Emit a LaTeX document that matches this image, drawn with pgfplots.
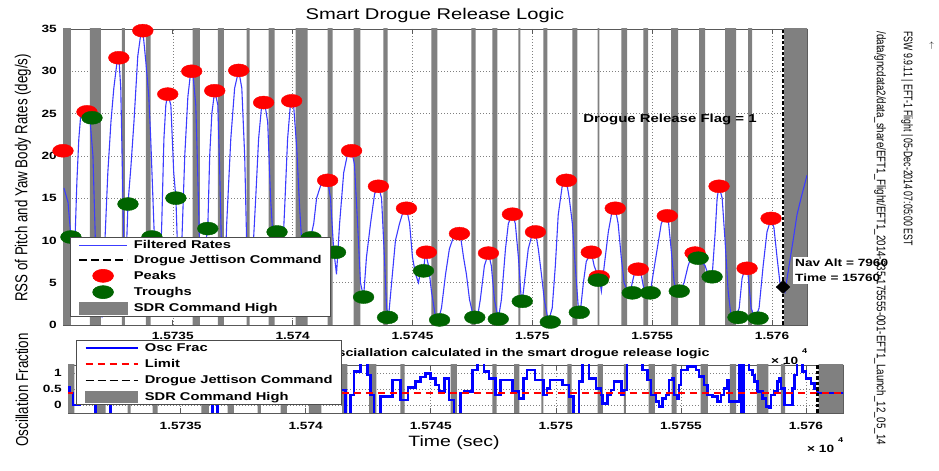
\documentclass[border=0pt]{standalone}
\usepackage{pgfplots}
\pgfplotsset{compat=1.18}
\usepackage{pgfplotstable}
\usepackage{fontspec}
\setmainfont{Liberation Sans}[FakeStretch=1.3]
\newfontfamily\rotfont{Liberation Sans}[FakeStretch=0.77]
\newfontfamily\sidefont{Liberation Sans}[FakeStretch=0.7]
\newfontfamily\sidefontb{Liberation Sans}[FakeStretch=0.78]
\definecolor{rateblue}{RGB}{60,60,255}
\definecolor{troughgreen}{RGB}{0,100,0}
\definecolor{sdrgray}{RGB}{128,128,128}

\pgfplotstableread{
t s
15729.9 -5
15730.00 40
15730.75 -5
15731.54 40
15732.00 -5
15732.88 40
15733.00 -5
15733.88 40
15734.08 -5
15735.83 40
15736.13 -5
15736.88 40
15737.13 -5
15738.08 40
15738.21 -5
15739.00 40
15739.25 -5
15740.13 40
15740.63 -5
15741.46 40
15741.67 -5
15742.54 40
15742.83 -5
15743.79 40
15743.96 -5
15745.79 40
15746.04 -5
15747.46 40
15747.63 -5
15748.33 40
15748.54 -5
15749.42 40
15749.50 -5
15750.46 40
15750.63 -5
15751.67 40
15751.88 -5
15752.72 40
15752.80 -5
15753.71 40
15753.96 -5
15754.63 40
15754.83 -5
15755.79 40
15756.08 -5
15756.96 40
15757.21 -5
15758.04 40
15758.50 -5
15759.00 40
15759.17 -5
15760.50 40
15762.00 -5
}\sdrbars

\pgfplotsset{
  sdraxis/.style={
    scale only axis,
    axis line style={black!65, line width=0.6bp},
    every tick/.style={black!65, line width=0.6bp},
    major tick length=5bp,
    tick align=inside,
    grid=major,
    major grid style={black!50, line width=0.5bp, dash pattern=on 1bp off 2bp},
    tick label style={font=\bfseries\fontsize{10.5bp}{12bp}\selectfont},
    yticklabel style={inner sep=0pt, anchor=east, xshift=-6bp},
    scaled x ticks=false,
    xtick={15735,15740,15745,15750,15755,15760},
    xticklabels={1.5735,1.574,1.5745,1.575,1.5755,1.576},
    x coord trafo/.code={\pgfmathfloatparsenumber{##1}\pgfmathfloattosci{\pgfmathresult}\edef\pgfmathresult{\fpeval{\pgfmathresult-15730}}},
    legend cell align=left,
    legend image code/.code={\draw[mark repeat=2,mark phase=2,##1] plot coordinates {(0bp,0bp) (24bp,0bp) (48bp,0bp)};},
  },
}

\begin{document}
\begin{tikzpicture}[x=1bp,y=1bp]
\useasboundingbox (0,0) rectangle (939,471);

% ---------------- top axis ----------------
\begin{axis}[sdraxis,
  at={(63bp,146bp)}, anchor=south west, width=744bp, height=296bp,
  xmin=15730.42, xmax=15761.46, ymin=0, ymax=35,
  ytick={0,5,10,15,20,25,30,35}, yticklabels={0,5,10,15,20,25,30,35},
  xticklabel style={inner sep=0pt, anchor=north, yshift=-7bp},
  clip mode=individual,
  legend style={at={(0.0094,0.297)}, anchor=north west, draw=black!70, line width=0.6bp,
    fill=white, inner xsep=8bp, inner ysep=2bp, row sep=3.3bp,
    font=\bfseries\fontsize{11.3bp}{13bp}\selectfont, nodes={inner sep=1bp},
    /tikz/column 1/.style={column sep=5bp}},
]
\addplot[const plot, fill=sdrgray, draw=none, forget plot] table[x=t,y=s]{\sdrbars} -- cycle;

\addplot[rateblue, line width=1.1bp] coordinates {
(15730.46,16.2) (15730.63,14.5) (15730.75,10.4) (15730.83,3) (15730.92,10) (15731.00,17) (15731.08,22) (15731.17,25.2) (15731.42,25.2) (15731.54,24.5) (15731.67,20) (15731.79,8) (15731.92,1.5) (15732.04,1) (15732.17,10) (15732.29,18) (15732.42,24) (15732.54,28) (15732.67,31) (15732.75,31.6) (15732.83,28) (15732.92,15) (15733.00,3) (15733.08,10) (15733.13,14.3) (15733.25,18.6) (15733.38,24) (15733.54,31.8) (15733.67,34.5) (15733.75,34.8) (15733.88,31) (15734.00,27) (15734.08,22) (15734.21,12) (15734.33,3) (15734.42,2) (15734.54,12) (15734.63,22) (15734.71,26) (15734.79,27.3) (15734.92,26) (15735.04,18) (15735.13,15) (15735.21,8) (15735.29,3) (15735.38,10) (15735.50,20) (15735.63,27) (15735.75,30) (15735.83,30) (15735.96,26) (15736.04,18) (15736.13,8) (15736.21,2) (15736.33,9) (15736.46,11.4) (15736.54,20) (15736.63,25) (15736.75,27.7) (15736.88,26) (15736.96,18) (15737.04,8) (15737.13,2) (15737.25,12) (15737.42,22) (15737.58,28) (15737.75,30.1) (15737.88,28) (15738.00,20) (15738.08,10) (15738.21,3) (15738.33,8) (15738.46,15) (15738.58,22) (15738.71,26) (15738.83,26.3) (15738.96,24) (15739.08,15) (15739.21,9) (15739.33,11) (15739.42,9) (15739.54,6) (15739.67,14) (15739.79,22) (15739.92,26.5) (15740.04,26) (15740.17,21) (15740.29,14) (15740.42,8) (15740.58,4) (15740.75,10.3) (15740.88,12) (15741.00,15) (15741.17,16.5) (15741.33,16.8) (15741.46,17.1) (15741.58,15) (15741.71,9) (15741.83,6) (15741.96,12) (15742.13,18) (15742.29,20.2) (15742.46,20.6) (15742.58,19) (15742.71,12) (15742.83,5) (15742.96,3.3) (15743.08,8) (15743.25,12) (15743.42,15.5) (15743.58,16.4) (15743.71,15) (15743.83,8) (15743.92,2) (15744.00,0.9) (15744.13,5) (15744.29,10) (15744.46,12) (15744.63,13.6) (15744.75,13.8) (15744.88,12) (15745.00,8) (15745.13,6) (15745.25,5) (15745.38,7) (15745.46,6.4) (15745.54,8.6) (15745.67,7) (15745.79,4) (15745.96,1) (15746.08,0.6) (15746.21,2) (15746.38,6) (15746.54,9) (15746.71,10.4) (15746.88,10.8) (15747.00,10.6) (15747.13,8) (15747.25,6) (15747.38,3) (15747.54,1) (15747.71,0.9) (15747.83,3) (15748.00,7) (15748.17,8.5) (15748.29,7) (15748.42,3) (15748.58,0.7) (15748.71,3) (15748.88,9) (15749.00,12) (15749.17,13.1) (15749.29,12) (15749.42,8) (15749.54,3) (15749.58,2.8) (15749.71,6) (15749.83,9) (15750.00,10.8) (15750.13,11) (15750.25,9) (15750.38,6) (15750.50,3) (15750.67,0.4) (15750.83,2) (15750.96,7) (15751.08,13) (15751.25,16.5) (15751.42,17.1) (15751.54,15) (15751.67,12) (15751.79,7) (15751.92,2) (15752.00,1.5) (15752.13,5) (15752.25,7.5) (15752.46,8.6) (15752.58,7) (15752.71,6) (15752.79,5.7) (15752.88,4) (15753.00,7) (15753.17,11) (15753.33,13.5) (15753.46,13.8) (15753.58,12) (15753.71,8) (15753.83,5) (15754.00,3.8) (15754.13,4.5) (15754.25,6) (15754.42,6.6) (15754.54,6) (15754.67,4) (15754.79,3.5) (15754.92,3.8) (15755.04,6) (15755.21,9) (15755.38,12) (15755.54,12.9) (15755.67,12.5) (15755.79,9) (15755.92,5) (15756.04,4) (15756.17,4) (15756.33,5) (15756.50,7) (15756.67,8.4) (15756.79,8.5) (15756.92,7.9) (15757.04,7.5) (15757.21,7) (15757.33,6) (15757.50,5.7) (15757.63,11) (15757.71,15) (15757.79,16.4) (15757.92,15) (15758.04,10) (15758.17,4) (15758.29,1) (15758.46,0.6) (15758.63,2) (15758.75,5.5) (15758.88,6.7) (15759.00,6) (15759.13,2) (15759.29,0.7) (15759.46,2) (15759.63,7) (15759.79,11) (15759.96,12.6) (15760.08,11.5) (15760.21,8) (15760.33,5) (15760.46,4.5) (15760.54,3.9) (15760.71,7) (15760.88,10) (15761.04,13) (15761.21,15) (15761.46,17.7)
};
\addlegendentry{Filtered Rates}
\addlegendimage{black, line width=1.6bp, dash pattern=on 8bp off 4bp}
\addlegendentry{Drogue Jettison Command}

\addplot[only marks, mark=*, mark size=6.5bp, red, mark options={xscale=1.6, draw=red, fill=red}] coordinates {
(15730.42,20.6) (15731.42,25.2) (15732.75,31.6) (15733.75,34.8) (15734.79,27.3) (15735.79,30.0) (15736.75,27.7) (15737.75,30.1) (15738.79,26.3) (15739.96,26.5) (15741.46,17.1) (15742.46,20.6) (15743.58,16.4) (15744.75,13.8) (15745.58,8.6) (15746.96,10.8) (15748.17,8.5) (15749.17,13.1) (15750.13,11.0) (15751.42,17.1) (15752.46,8.6) (15752.79,5.7) (15753.46,13.8) (15754.42,6.6) (15755.63,12.9) (15756.79,8.5) (15757.79,16.4) (15758.96,6.7) (15759.96,12.6)
};
\addlegendentry{Peaks}

\addplot[only marks, mark=*, mark size=6.5bp, troughgreen, mark options={xscale=1.6, draw=troughgreen, fill=troughgreen}] coordinates {
(15730.75,10.4) (15731.63,24.5) (15733.13,14.3) (15734.13,10.4) (15735.13,15.0) (15736.46,11.4) (15739.35,11.0) (15740.77,10.3) (15741.79,8.6) (15742.96,3.3) (15743.96,0.9) (15745.46,6.4) (15746.13,0.6) (15747.60,0.9) (15748.58,0.7) (15749.58,2.8) (15750.75,0.35) (15751.96,1.5) (15752.75,5.3) (15754.17,3.8) (15754.92,3.8) (15756.13,4.0) (15756.92,7.9) (15757.50,5.7) (15758.58,0.9) (15759.42,0.8)
};
\addlegendentry{Troughs}
\addlegendimage{legend image code/.code={\fill[sdrgray] (0bp,-6bp) rectangle (48bp,6bp);}}
\addlegendentry{SDR Command High}

\addplot[black, line width=2.6bp, dash pattern=on 3.5bp off 2bp, forget plot] coordinates {(15760.46,0) (15760.46,35)};
\addplot[only marks, mark=diamond*, mark size=6.5bp, black, mark options={xscale=1.4}, forget plot] coordinates {(15760.46,4.49)};
\end{axis}

% subtitle of the lower axis (partly covered by its legend)
\node[anchor=base east, font=\bfseries\fontsize{11bp}{13bp}\selectfont] at (713,114)
  {Fraction of osciallation calculated in the smart drogue release logic};

% ---------------- bottom axis ----------------
\begin{axis}[sdraxis,
  at={(68bp,58bp)}, anchor=south west, width=775bp, height=48bp,
  xmin=15730.5, xmax=15761.48, ymin=-0.25, ymax=1.25,
  ytick={0,0.5,1}, yticklabels={0,0.5,1},
  xticklabel style={inner sep=0pt, anchor=north, yshift=-9bp},
  legend style={at={(0.0103,1.52)}, anchor=north west, draw=black!70, line width=0.6bp,
    fill=white, inner xsep=8bp, inner ysep=2bp, row sep=4.6bp,
    font=\bfseries\fontsize{11.3bp}{13bp}\selectfont, nodes={inner sep=1bp},
    /tikz/column 1/.style={column sep=5bp}},
  legend image code/.code={\draw[mark repeat=2,mark phase=2,#1] plot coordinates {(0bp,0bp) (26bp,0bp) (52bp,0bp)};},
]
\addplot[const plot, fill=sdrgray, draw=none, forget plot] table[x=t,y=s]{\sdrbars} -- cycle;

\addplot[const plot, blue, line width=2.6bp] coordinates {
(15730.40,0.56) (15730.55,0.37) (15730.70,0.0) (15730.95,0.5) (15731.30,0.9) (15731.60,-0.3) (15732.20,0.3) (15732.60,0.8) (15733.10,1.1) (15733.60,0.6) (15734.20,0.9) (15734.80,0.4) (15735.30,0.8) (15735.90,0.5) (15736.28,-0.3) (15736.48,0.4) (15736.90,0.9) (15737.50,0.6) (15738.10,1.0) (15738.70,0.5) (15739.30,0.8) (15739.90,0.3) (15740.50,0.7) (15741.00,0.5) (15741.40,0.47) (15741.60,-0.3) (15741.80,0.31) (15741.93,1.04) (15742.20,1.5) (15742.47,0.94) (15742.60,0.31) (15742.73,-0.3) (15743.00,0.26) (15743.47,0.78) (15743.80,0.16) (15744.09,0.55) (15744.40,0.73) (15744.60,0.88) (15744.80,0.99) (15745.00,0.83) (15745.20,0.625) (15745.33,0.42) (15745.56,0.83) (15745.73,0.16) (15745.93,-0.3) (15746.20,0.37) (15746.33,0.42) (15746.67,1.09) (15746.87,1.5) (15747.13,1.04) (15747.33,0.83) (15747.60,0.31) (15747.80,0.78) (15748.27,0.42) (15748.53,0.21) (15748.71,0.83) (15748.84,1.09) (15749.17,0.78) (15749.51,0.31) (15749.64,0.52) (15749.77,0.78) (15750.27,0.625) (15750.53,0.26) (15750.71,-0.3) (15750.93,0.73) (15751.07,1.5) (15751.32,0.83) (15751.60,0.52) (15751.80,0.31) (15751.87,0.05) (15752.07,0.31) (15752.20,0.47) (15752.33,0.73) (15752.63,0.31) (15752.73,0.47) (15752.84,1.5) (15753.47,1.09) (15753.67,0.78) (15753.80,0.31) (15754.00,0.1) (15754.13,-0.05) (15754.27,0.21) (15754.40,0.31) (15754.53,0.78) (15754.67,0.83) (15754.73,0.31) (15754.87,0.21) (15754.93,0.625) (15755.00,1.09) (15755.27,1.2) (15755.60,1.09) (15755.73,0.885) (15755.93,0.625) (15756.07,0.31) (15756.27,0.26) (15756.47,0.1) (15756.60,0.31) (15756.73,0.52) (15756.87,0.78) (15756.93,0.1) (15757.33,1.5) (15757.40,-0.3) (15757.50,1.5) (15757.72,1.09) (15757.87,0.94) (15757.93,0.73) (15758.07,0.42) (15758.27,0.21) (15758.40,-0.05) (15758.53,-0.1) (15758.60,0.31) (15758.73,0.42) (15758.87,0.73) (15758.93,0.83) (15759.00,0.52) (15759.13,0.0) (15759.47,0.52) (15759.53,0.94) (15759.64,1.5) (15759.87,1.04) (15760.00,0.83) (15760.20,0.68) (15760.33,0.52) (15760.47,0.37) (15761.50,0.37)
};
\addlegendentry{Osc Frac}
\addplot[color={rgb,255:red,255;green,0;blue,0}, line width=2bp, dash pattern=on 7bp off 5bp] coordinates {(15730.40,0.36) (15761.50,0.36)};
\addlegendentry{Limit}
\addplot[black, line width=2.6bp, dash pattern=on 3.5bp off 2bp, forget plot] coordinates {(15760.46,-0.25) (15760.46,1.25)};
\addlegendimage{black, line width=1.6bp, dash pattern=on 8bp off 4bp}
\addlegendentry{Drogue Jettison Command}
\addlegendimage{legend image code/.code={\fill[sdrgray] (0bp,-5.5bp) rectangle (52bp,5.5bp);}}
\addlegendentry{SDR Command High}
\end{axis}

% ---------------- titles, labels, annotations ----------------
\node[anchor=base, font=\fontsize{15.5bp}{18bp}\selectfont] at (435,451) {Smart Drogue Release Logic};
\node[anchor=base, font=\fontsize{15bp}{18bp}\selectfont] at (454,24) {Time (sec)};
\node[rotate=90, font=\rotfont\fontsize{17.3bp}{20bp}\selectfont] at (23,293) {RSS of Pitch and Yaw Body Rates (deg/s)};
\node[rotate=90, font=\rotfont\fontsize{17.3bp}{20bp}\selectfont] at (22,81) {Oscillation Fraction};

\node[anchor=base west, inner sep=0pt, font=\bfseries\fontsize{10.5bp}{12bp}\selectfont] at (771,106) {× 10};
\node[anchor=base west, inner sep=0pt, font=\bfseries\fontsize{7bp}{8bp}\selectfont] at (802,117) {4};
\node[anchor=base west, inner sep=0pt, font=\bfseries\fontsize{10.5bp}{12bp}\selectfont] at (807,18) {× 10};
\node[anchor=base west, inner sep=0pt, font=\bfseries\fontsize{7bp}{8bp}\selectfont] at (838,28) {4};

\node[anchor=base, font=\bfseries\fontsize{11.5bp}{13bp}\selectfont] at (670,348.3) {Drogue Release Flag = 1};
\node[anchor=north west, fill=white, inner sep=2bp, align=left, font=\bfseries\fontsize{10.5bp}{15bp}\selectfont] at (793,214) {Nav Alt = 7960\\Time = 15760};

\node[rotate=-90, anchor=west, font=\sidefont\fontsize{12.5bp}{14bp}\selectfont] at (907,443) {FSW 9.9.11 | EFT-1 Flight | 05-Dec-2014 07:05:00 EST};
\node[rotate=-90, anchor=west, font=\sidefontb\fontsize{12.5bp}{14bp}\selectfont] at (880,443) {/data/gncdata2/data\_share/EFT1\_Flight/EFT1\_2014-335-175555-001-EFT1\_Launch\_12\_05\_14};
\node[rotate=-90, inner sep=1bp, font=\fontsize{8bp}{9bp}\selectfont] at (931,425) {$\leftarrow$};
\end{tikzpicture}
\end{document}
